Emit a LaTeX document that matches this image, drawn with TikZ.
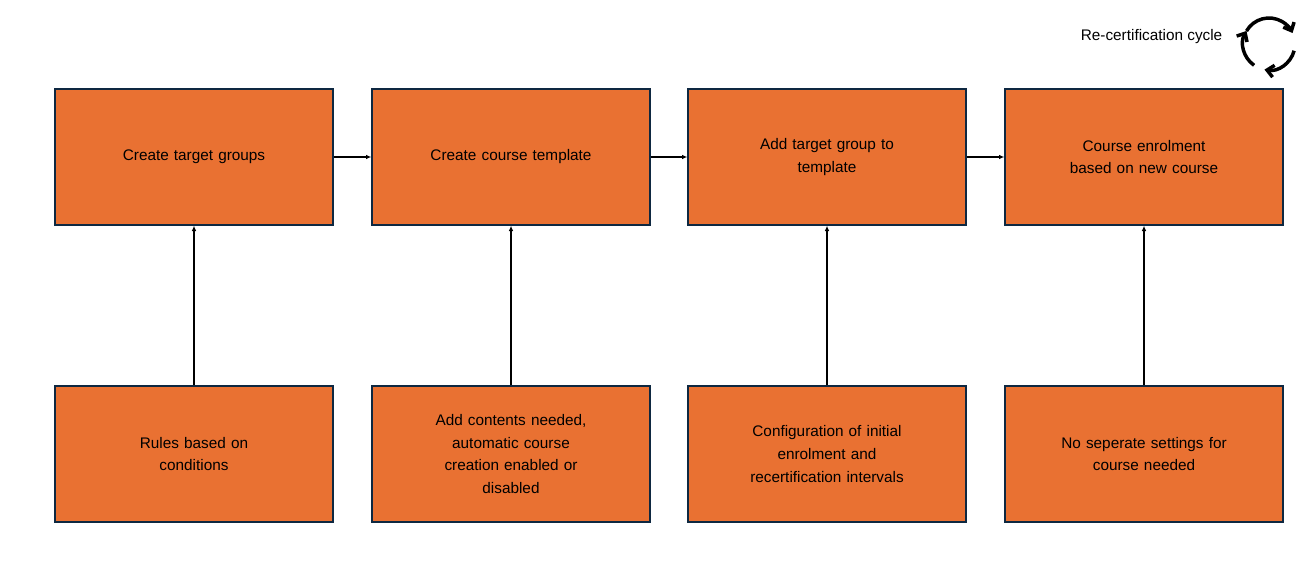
\documentclass[tikz,border=0pt]{standalone}
\usepackage{fontspec}
\setmainfont{Liberation Sans}
\usetikzlibrary{arrows.meta}
\definecolor{fillor}{HTML}{E97132}
\definecolor{edge}{HTML}{0E2841}
\begin{document}
\begin{tikzpicture}[x=0.75pt,y=-0.75pt,
 box/.style={draw=edge,line width=1pt,fill=fillor,minimum width=208.5pt,minimum height=102pt,align=center,font=\fontsize{11.5}{17}\selectfont,text width=190pt,inner sep=0pt},
 conn/.style={-{Latex[length=4pt,width=3.5pt]},line width=1pt,black}]
\useasboundingbox (0,0) rectangle (1311,562);
\node[box] (t1) at (194,157) {Create target groups};
\node[box] (t2) at (511,157) {Create course template};
\node[box] (t3) at (827,157) {Add target group to\\template};
\node[box] (t4) at (1144,157) {Course enrolment\\based on new course};
\node[box] (b1) at (194,454) {Rules based on\\conditions};
\node[box] (b2) at (511,454) {Add contents needed,\\automatic course\\creation enabled or\\disabled};
\node[box] (b3) at (827,454) {Configuration of initial\\enrolment and\\recertification intervals};
\node[box] (b4) at (1144,454) {No seperate settings for\\course needed};
\draw[conn] (t1) -- (t2);
\draw[conn] (t2) -- (t3);
\draw[conn] (t3) -- (t4);
\foreach \i in {1,2,3,4} \draw[conn] (b\i) -- (t\i);
\node[anchor=east,font=\fontsize{11.5}{14}\selectfont] (lbl) at (1227,37) {Re-certification cycle};
\coordinate (c) at (1269,44);
\begin{scope}[shift={(c)},y=0.75pt,x=0.75pt,line width=2.6pt,-{Straight Barb[length=5pt,width=9pt]}]
\draw (150:26) arc (150:25:26);
\draw (-15:26) arc (-15:-100:26);
\draw (-125:26) arc (-125:-210:26);
\end{scope}
\end{tikzpicture}
\end{document}
